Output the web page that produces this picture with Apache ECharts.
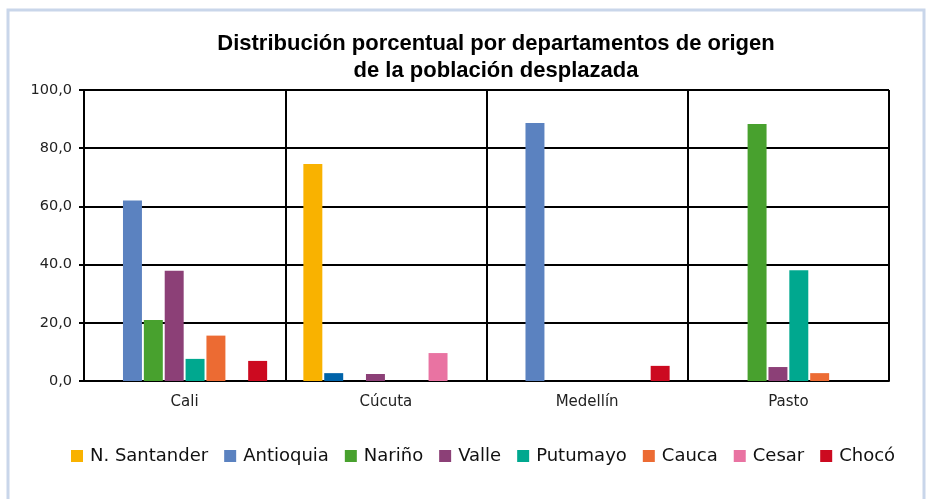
<!DOCTYPE html>
<html>
<head>
<meta charset="utf-8">
<script src="https://cdn.jsdelivr.net/npm/echarts@6/dist/echarts.min.js"></script>
<style>
  html, body { margin: 0; padding: 0; background: #fff; }
  #chart { width: 929px; height: 499px; }
</style>
</head>
<body>
<div id="chart"></div>
<script>
// ciudades de llegada
const cities = ['Cali', 'Cúcuta', 'Medellín', 'Pasto']
// etiquetas del eje y (tal como aparecen en el original)
const yTicks = ['0,0', '20,0', '40.0', '60,0', '80,0', '100,0']

// % por departamento de origen, un valor por ciudad
const nSantander = [null, 74.6, null, null]
const antioquia = [62.0, 2.7, 88.7, null]
const narino = [21.0, null, null, 88.3]
const valle = [37.9, 2.4, null, 4.8]
const putumayo = [7.6, null, null, 38.1]
const cauca = [15.6, null, null, 2.7]
const cesar = [null, 9.6, null, null]
const choco = [6.9, null, 5.2, null]

const seriesDefs = [
  { name: 'N. Santander', data: nSantander, color: '#f9b200' },
  { name: 'Antioquia', data: antioquia, color: '#5b82c0' },
  { name: 'Nariño', data: narino, color: '#48a12e' },
  { name: 'Valle', data: valle, color: '#8c4077' },
  { name: 'Putumayo', data: putumayo, color: '#00a88f' },
  { name: 'Cauca', data: cauca, color: '#ec6b33' },
  { name: 'Cesar', data: cesar, color: '#e973a2' },
  { name: 'Chocó', data: choco, color: '#cc0a20' },
]

// en Cúcuta la barra de Antioquia sale en otro azul
const overrides = { 'Antioquia|1': '#0063a9' }

const option = {
  animation: false,
  backgroundColor: '#fff',
  graphic: [
    {
      type: 'rect',
      shape: { x: 8, y: 10, width: 916, height: 500 },
      style: { fill: 'none', stroke: '#c9d6ea', lineWidth: 3 },
      silent: true,
    },
  ],
  title: {
    text: 'Distribución porcentual por departamentos de origen\nde la población desplazada',
    left: 491,
    top: 25,
    textAlign: 'center',
    textStyle: {
      fontFamily: 'Liberation Sans, sans-serif',
      fontWeight: 'bold',
      fontSize: 22,
      lineHeight: 27,
      color: '#000',
    },
  },
  legend: {
    left: 66,
    top: 442,
    itemWidth: 12,
    itemHeight: 12,
    itemGap: 16,
    icon: 'rect',
    textStyle: {
      fontFamily: 'DejaVu Sans, sans-serif',
      fontSize: 18,
      color: '#111',
      padding: [0, 0, 0, 2],
    },
    data: seriesDefs.map((s) => s.name),
  },
  grid: {
    left: 84,
    right: 40,
    top: 90,
    bottom: 118,
  },
  xAxis: {
    type: 'category',
    data: cities,
    axisLine: { lineStyle: { color: '#000', width: 2 } },
    axisTick: { show: false },
    splitLine: { show: true, lineStyle: { color: '#000', width: 2 } },
    axisLabel: {
      fontFamily: 'DejaVu Sans, sans-serif',
      fontSize: 15,
      color: '#222',
      margin: 14,
    },
  },
  yAxis: {
    type: 'value',
    min: 0,
    max: 100,
    interval: 20,
    axisLine: { show: true, lineStyle: { color: '#000', width: 2 } },
    axisTick: { show: true, length: 5, lineStyle: { color: '#000', width: 2 } },
    splitLine: { lineStyle: { color: '#000', width: 2 } },
    axisLabel: {
      fontFamily: 'DejaVu Sans, sans-serif',
      fontSize: 14.5,
      color: '#222',
      margin: 12,
      formatter: (v) => yTicks[Math.round(v / 20)],
    },
  },
  series: seriesDefs.map((s) => ({
    name: s.name,
    type: 'bar',
    barGap: '10%',
    barCategoryGap: '18%',
    itemStyle: { color: s.color },
    data: s.data.map((v, i) => {
      const c = overrides[s.name + '|' + i]
      return c ? { value: v, itemStyle: { color: c } } : v
    }),
  })),
}

const chart = echarts.init(document.getElementById('chart'))
chart.setOption(option)
window.addEventListener('resize', () => {
  chart.resize()
})
</script>
</body>
</html>
